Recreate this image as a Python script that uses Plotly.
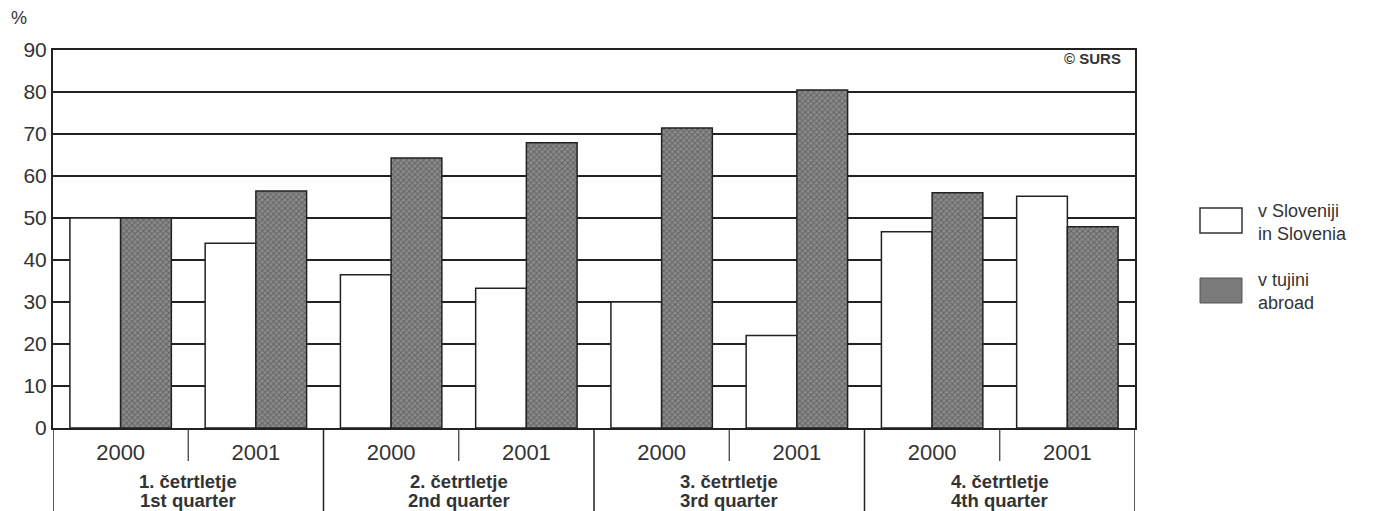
import plotly.graph_objects as go

quarters_sl = ["1. četrtletje", "2. četrtletje", "3. četrtletje", "4. četrtletje"]
quarters_en = ["1st quarter", "2nd quarter", "3rd quarter", "4th quarter"]
years = ["2000", "2001"]
in_slovenia = [50, 44, 36.5, 33.3, 30, 22, 46.7, 55.2]
abroad = [50, 56.4, 64.3, 67.9, 71.4, 80.5, 56, 47.9]
series_names = ["v Sloveniji<br>in Slovenia", "v tujini<br>abroad"]
y_ticks = [0, 10, 20, 30, 40, 50, 60, 70, 80, 90]

year_labels = [y for _ in quarters_sl for y in years]
xpos = list(range(len(year_labels)))
nY = len(years)

# page offset (body margin) and plot box in screen pixels
OFF = 8
L, R, T, B = 53, 1135, 50, 428
W, H = 1377 - OFF, 511 - OFF


def px(xs):
    return (xs - L) / (R - L)


def py(ys):
    return (B - ys) / (B - T)


fig = go.Figure()
fig.add_trace(go.Bar(
    x=xpos, y=in_slovenia, name=series_names[0],
    marker=dict(color="white", line=dict(color="#222", width=1.5)),
    showlegend=False))
fig.add_trace(go.Bar(
    x=xpos, y=abroad, name=series_names[1],
    marker=dict(color="#8c8c8c", line=dict(color="#222", width=1.5),
                pattern=dict(shape="x", fgcolor="#3a3a3a", size=4, solidity=0.45)),
    showlegend=False))

font = "Liberation Sans, Arial, sans-serif"
shapes = [
    dict(type="rect", xref="paper", yref="paper", x0=px(1200), x1=px(1242),
         y0=py(233), y1=py(208), fillcolor="white", line=dict(color="#333", width=1.5)),
    dict(type="rect", xref="paper", yref="paper", x0=px(1200), x1=px(1242),
         y0=py(303), y1=py(278), fillcolor="#7a7a7a", line=dict(color="#555", width=1)),
]
annotations = [
    dict(text="%", xref="paper", yref="paper", x=px(9), y=py(30), xanchor="left",
         yanchor="bottom", showarrow=False, font=dict(size=18, color="#333")),
    dict(text="<b>© SURS</b>", xref="paper", yref="paper", x=px(1123), y=py(58),
         xanchor="right", yanchor="middle", showarrow=False,
         font=dict(size=15, color="#333")),
    dict(text=series_names[0], xref="paper", yref="paper", x=px(1256), y=py(222),
         xanchor="left", yanchor="middle", align="left", showarrow=False,
         font=dict(size=18, color="#333")),
    dict(text=series_names[1], xref="paper", yref="paper", x=px(1256), y=py(291),
         xanchor="left", yanchor="middle", align="left", showarrow=False,
         font=dict(size=18, color="#333")),
]
for i, (qs, qe) in enumerate(zip(quarters_sl, quarters_en)):
    xc = nY * i + (nY - 1) / 2
    # short divider between the two years
    shapes.append(dict(type="line", xref="x", yref="paper", x0=xc, x1=xc,
                       y0=0, y1=py(461), line=dict(color="#333", width=1.2)))
    # long divider at the left of each quarter
    shapes.append(dict(type="line", xref="x", yref="paper", x0=nY * i - 0.5, x1=nY * i - 0.5,
                       y0=0, y1=py(520), line=dict(color="#222", width=1.5)))
    annotations.append(dict(text="<b>" + qs + "</b>", xref="x", yref="paper", x=xc, y=py(481),
                            xanchor="center", yanchor="middle", showarrow=False,
                            font=dict(size=18.5, color="#333")))
    annotations.append(dict(text="<b>" + qe + "</b>", xref="x", yref="paper", x=xc, y=py(501),
                            xanchor="center", yanchor="middle", showarrow=False,
                            font=dict(size=18.5, color="#333")))
shapes.append(dict(type="line", xref="x", yref="paper", x0=len(xpos) - 0.5, x1=len(xpos) - 0.5,
                   y0=0, y1=py(520), line=dict(color="#222", width=1.5)))

fig.update_layout(
    width=W, height=H,
    margin=dict(l=L - OFF, r=W - (R - OFF), t=T - OFF, b=H - (B - OFF)),
    paper_bgcolor="white", plot_bgcolor="white",
    barmode="group", bargap=0.25, bargroupgap=0,
    font=dict(family=font, color="#333", size=20),
    xaxis=dict(range=[-0.5, len(xpos) - 0.5], tickvals=xpos, ticktext=year_labels,
               showline=True, linecolor="#222", linewidth=2,
               mirror=True, ticks="", showgrid=False, zeroline=False,
               ticklabelstandoff=4,
               tickfont=dict(size=22, color="#333"), automargin=False),
    yaxis=dict(range=[0, 90], tickvals=y_ticks, showgrid=True, gridcolor="#222",
               gridwidth=1.5, showline=True, linecolor="#222", linewidth=2,
               mirror=True, ticks="", tickfont=dict(size=21, color="#333"),
               zeroline=False, automargin=False),
    annotations=annotations,
    shapes=shapes,
)
fig.write_html("out.html")
